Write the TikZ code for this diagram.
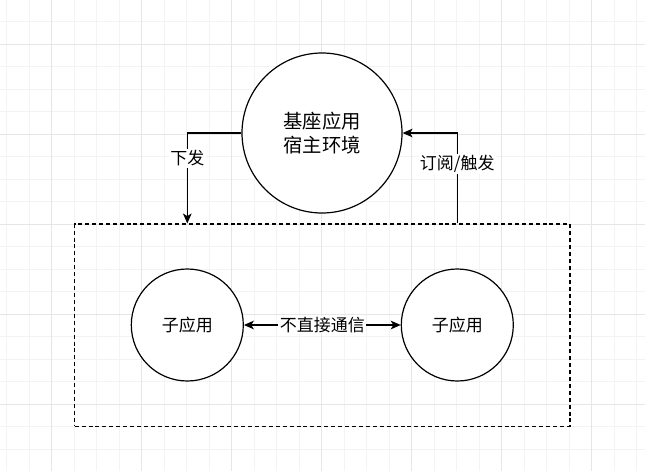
\documentclass[tikz,border=0pt]{standalone}
\usepackage{fontspec}
\setmainfont{Noto Sans CJK SC}
\usepackage{tikz}
\usetikzlibrary{arrows.meta, positioning, calc}
\usepackage{xcolor}
\definecolor{GridMinor}{HTML}{F3F3F3}
\definecolor{GridMajor}{HTML}{E6E6E6}
\definecolor{InkBlack}{HTML}{000000}
\tikzset{
    % circles - sizes in pt (one px is 0.75pt)
    hostapp/.style={
        circle,
        draw=InkBlack,
        fill=white,
        line width=0.9pt,
        minimum size=120pt,
        inner sep=0pt,
        align=center,
        font=\fontsize{14.5pt}{18pt}\selectfont
    },
    childapp/.style={
        circle,
        draw=InkBlack,
        fill=white,
        line width=0.9pt,
        minimum size=84pt,
        inner sep=0pt,
        align=center,
        font=\fontsize{12.75pt}{15pt}\selectfont
    },
    groupbox/.style={
        rectangle,
        draw=InkBlack,
        line width=0.9pt,
        dash pattern=on 3pt off 2.2pt,
        minimum width=371.5pt,
        minimum height=151.7pt,
        inner sep=0pt
    },
    % connectors
    link/.style={
        ->,
        >={Stealth[length=7.5pt, width=6.5pt, inset=2pt]},
        line width=0.9pt,
        draw=InkBlack
    },
    tag/.style={
        fill=white,
        inner sep=1pt,
        font=\fontsize{12.75pt}{15pt}\selectfont
    },
    minorgrid/.style={draw=GridMinor, line width=0.75pt},
    majorgrid/.style={draw=GridMajor, line width=0.75pt}
}

\begin{document}
\begin{tikzpicture}[x=0.75pt, y=-0.75pt]
    \useasboundingbox (0,0) rectangle (645,471);
    \fill[white] (0,0) rectangle (645,471);

    % background grid
    \foreach \i in {0,...,28} {\draw[minorgrid] ({6.5+22.5*\i},0) -- ++(0,471);}
    \foreach \i in {0,...,20} {\draw[minorgrid] (0,{-1+22.5*\i}) -- ++(645,0);}
    \foreach \i in {0,...,6} {\draw[majorgrid] ({51.5+90*\i},0) -- ++(0,471);}
    \foreach \i in {0,...,4} {\draw[majorgrid] (0,{44+90*\i}) -- ++(645,0);}

    \node[hostapp] (host) at (322,133) {基座应用\\宿主环境};

    \node[groupbox] (group) at (322.3,325.2) {};
    \node[childapp] (childA) at (187.3,325) {子应用};
    \node[childapp] (childB) at (457.3,325) {子应用};

    \draw[link] (host.west) -| node[tag, pos=0.64] {下发} (childA |- group.north);
    \draw[link] (childB |- group.north) |- node[tag, pos=0.33] {订阅/触发} (host.east);

    \draw[link, <->] (childA) -- node[tag] {不直接通信} (childB);
\end{tikzpicture}
\end{document}
